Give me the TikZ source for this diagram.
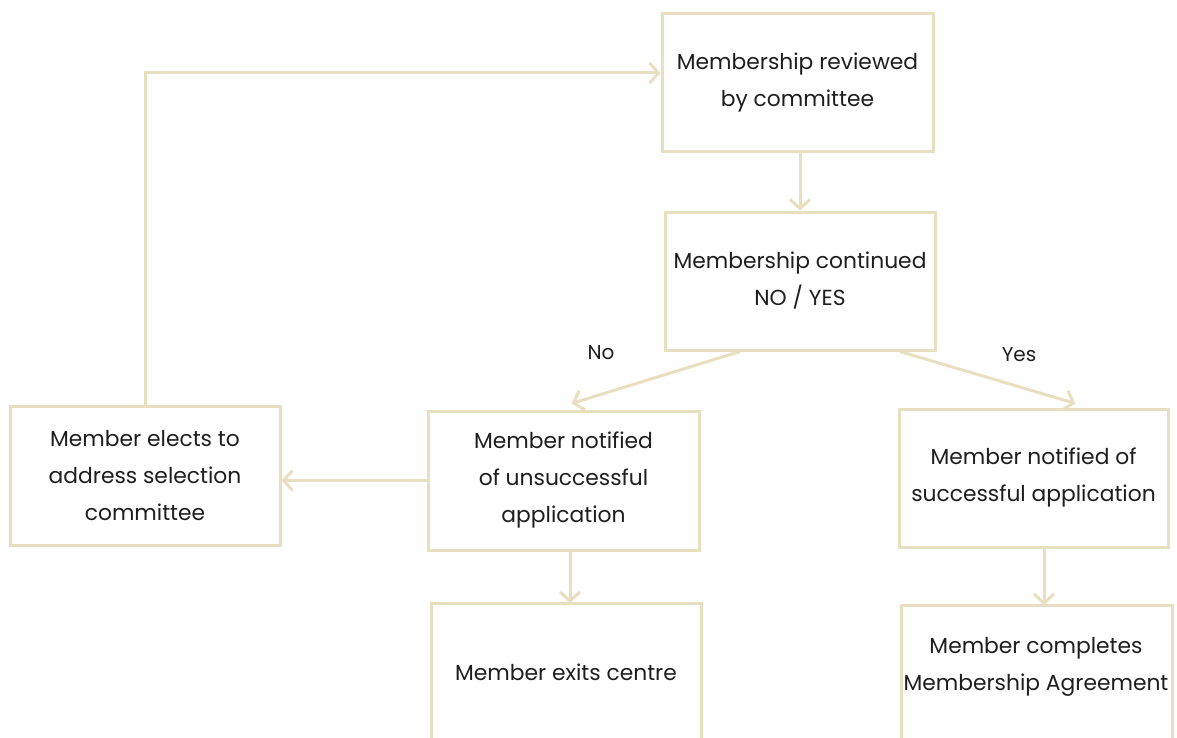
\documentclass[tikz,border=0pt]{standalone}
\usepackage{fontspec}
\setmainfont{Poppins}
\usetikzlibrary{arrows.meta}
\definecolor{edge}{HTML}{E8DEC0}
\definecolor{ink}{HTML}{1E1E1E}
\begin{document}
\begin{tikzpicture}[x=1pt,y=-1pt,
 box/.style={draw=edge,line width=3pt,align=center,inner sep=0pt,font=\fontsize{21.8}{37}\selectfont,text=ink},
 txt/.style={align=center,inner sep=0pt,font=\fontsize{21.8}{37}\selectfont,text=ink},
 lbl/.style={font=\fontsize{20}{24}\selectfont,text=ink},
 frame/.style={draw=edge,line width=3pt},
 conn/.style={draw=edge,line width=3pt,-{Straight Barb[length=9pt,width=20pt,line width=3pt]}}]
\useasboundingbox (0,0) rectangle (1177,738);
\clip (0,0) rectangle (1177,738);

\node[box,minimum width=271pt,minimum height=138pt] (A) at (797.5,83) {Membership reviewed\\by committee};
\node[box,minimum width=270pt,minimum height=138pt] (B) at (800,281) {Membership continued\\NO / YES};
\node[box,minimum width=271pt,minimum height=139pt] (C) at (563.5,480.5) {Member notified\\of unsuccessful\\application};
\node[box,minimum width=269pt,minimum height=138pt] (D) at (1033.5,478) {Member notified of\\successful application};
\node[box,minimum width=270pt,minimum height=139pt] (E) at (145,475.5) {Member elects to\\address selection\\committee};

\draw[frame] (431,760) |- (701,603) -- (701,760);
\node[txt] (F) at (566,672) {Member exits centre};
\coordinate (Ftop) at (570,603);

\draw[frame] (901,760) |- (1172,605) -- (1172,760);
\node[txt] (G) at (1036,667) {Member completes\\Membership Agreement};
\coordinate (Gtop) at (1044,605);

\node[lbl] (no) at (601,353) {No};
\node[lbl] (yes) at (1019,355) {Yes};

\draw[conn] (B.north |- A.south) -- (B.north);
\draw[conn] ([xshift=-60pt]B.south) -- ([xshift=8pt,yshift=6pt]C.north);
\draw[conn] ([xshift=100pt]B.south) -- ([xshift=42pt,yshift=4pt]D.north);
\draw[conn] (C.west) -- (E.east |- C.west);
\draw[conn] (Ftop |- C.south) -- (Ftop);
\draw[conn] (Gtop |- D.south) -- (Gtop);
\draw[conn] (E.north) |- ([yshift=10pt]A.west);
\end{tikzpicture}
\end{document}
